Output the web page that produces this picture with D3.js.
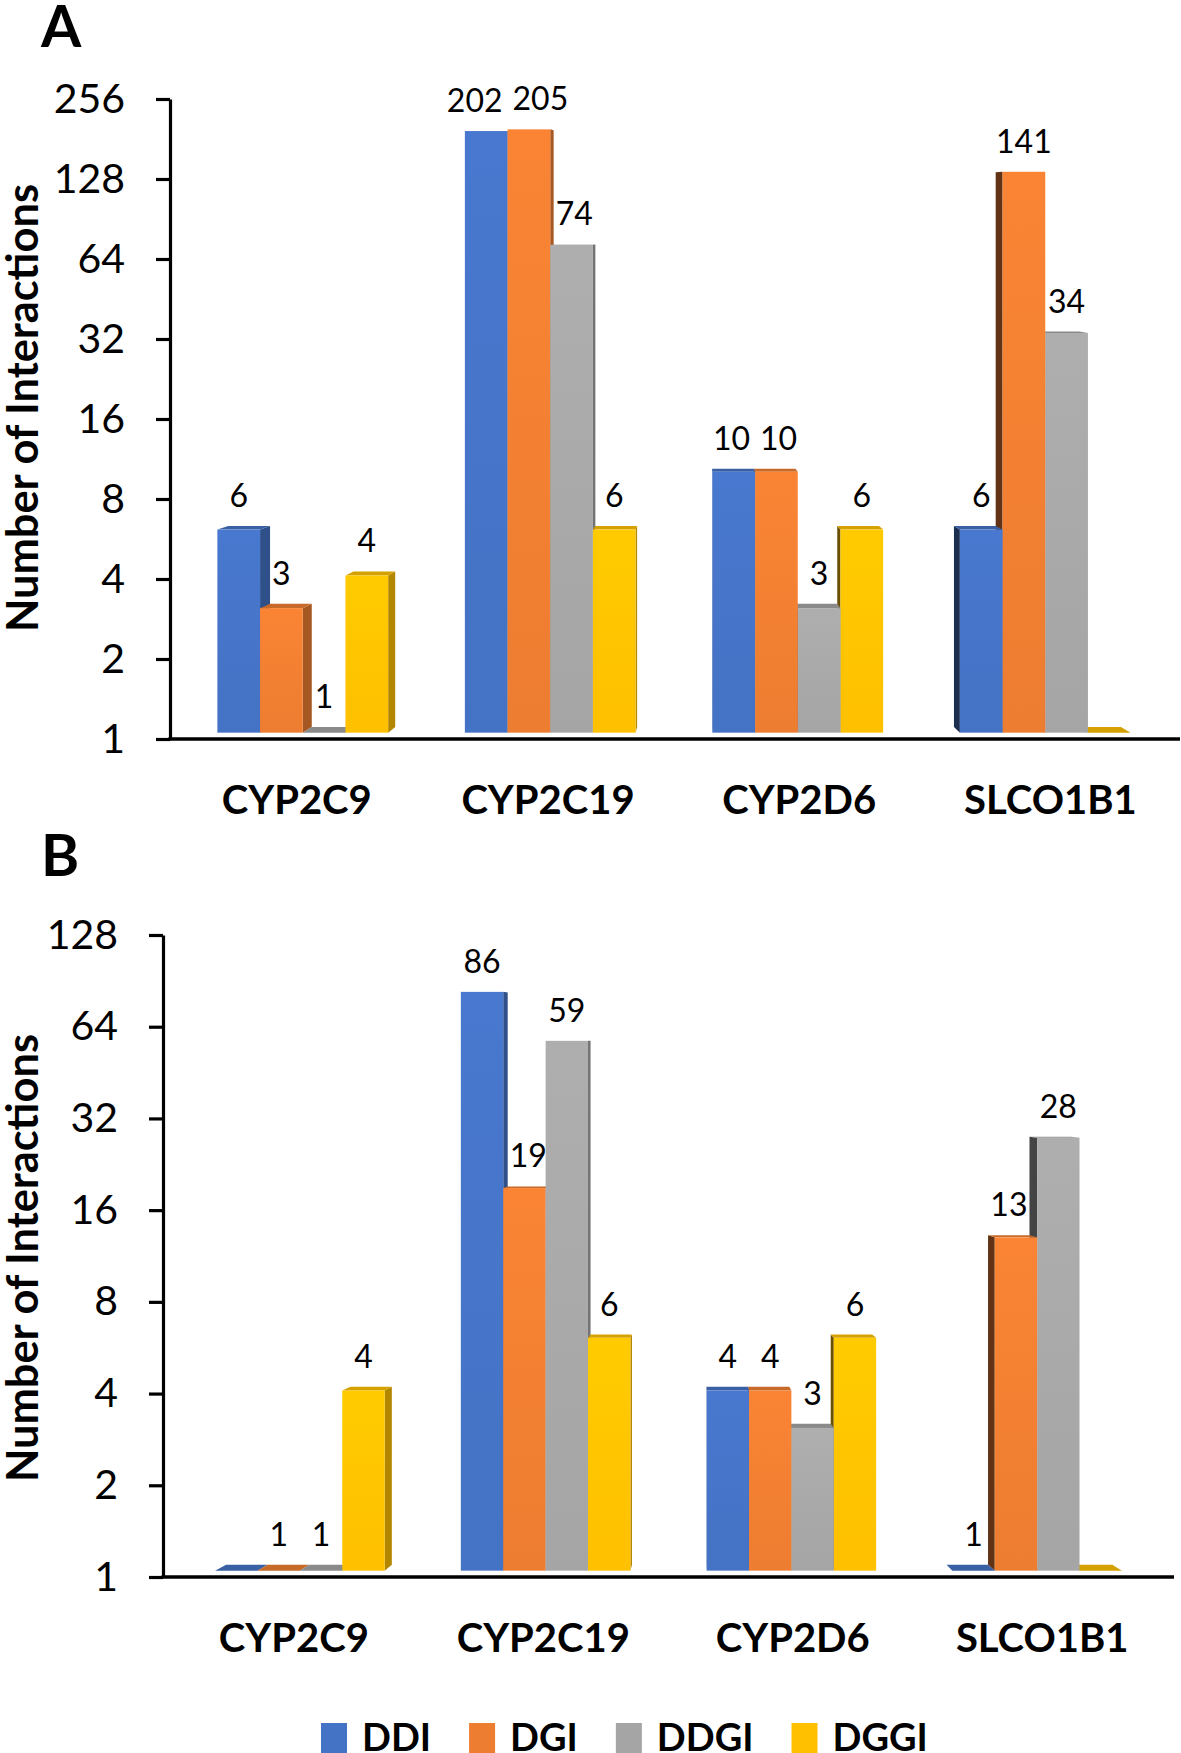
<!DOCTYPE html>
<html>
<head>
<meta charset="utf-8">
<script src="https://cdn.jsdelivr.net/npm/d3@7"></script>
<style>
  body { margin: 0; background: #fff; }
  svg { display: block; font-family: Lato, "Open Sans", sans-serif; }
</style>
</head>
<body>
<script>
// categories and series
const genes = ["CYP2C9", "CYP2C19", "CYP2D6", "SLCO1B1"];
const types = ["DDI", "DGI", "DDGI", "DGGI"];
const colors = ["#4472C4", "#ED7D31", "#A5A5A5", "#FFC000"];

// panel A values (0 = nothing to show on the log axis, drawn flat without a label)
const aDDI = [6, 202, 10, 6];
const aDGI = [3, 205, 10, 141];
const aDDGI = [1, 74, 3, 34];
const aDGGI = [4, 6, 6, 0];

// panel B values
const bDDI = [0, 86, 4, 1];
const bDGI = [1, 19, 4, 13];
const bDDGI = [1, 59, 3, 28];
const bDGGI = [4, 6, 6, 0];

const ticksA = [1, 2, 4, 8, 16, 32, 64, 128, 256];
const ticksB = [1, 2, 4, 8, 16, 32, 64, 128];

const width = 1181;
const height = 1753;

const svg = d3.select("body").append("svg")
    .attr("width", width)
    .attr("height", height)
    .attr("viewBox", [0, 0, width, height]);

svg.append("rect").attr("width", width).attr("height", height).attr("fill", "#fff");

// front faces get a faint top-lit gradient like the office 3D columns
const defs = svg.append("defs");
types.forEach((t, i) => {
  const g = defs.append("linearGradient")
      .attr("id", `grad-${t}`)
      .attr("x1", 0).attr("y1", 0).attr("x2", 0).attr("y2", 1);
  g.append("stop").attr("offset", "0%").attr("stop-color", d3.color(colors[i]).brighter(0.15));
  g.append("stop").attr("offset", "100%").attr("stop-color", colors[i]);
});

function drawPanel(opt) {
  const {series, ticks, top, bottom, axisX, xEnd, xRange, letter, letterY, titleY} = opt;

  const y = d3.scaleLog().base(2)
      .domain([ticks[0], ticks[ticks.length - 1]])
      .range([bottom, top]);

  const x = d3.scaleBand()
      .domain(genes)
      .range(xRange)
      .paddingInner(0.31)
      .paddingOuter(0.155);

  const xs = d3.scaleBand()
      .domain(types)
      .range([0, x.bandwidth()]);

  // simple perspective: the columns sit a little behind the axis plane
  const vx = 700;
  const vy = top + 0.17 * (bottom - top);
  const kx = 0.0227, ky = 0.011;
  const cy = top + 0.45 * (bottom - top);
  const s = 0.982;
  const front = v => cy + (y(Math.max(v, 1)) - cy) * s;
  const back = (px, py) => [px + (vx - px) * kx, py + (vy - py) * ky];

  const g = svg.append("g");

  // y axis
  g.append("g")
      .attr("transform", `translate(${axisX},0)`)
      .call(d3.axisLeft(y)
          .tickValues(ticks)
          .tickFormat(d3.format("d"))
          .tickSize(14)
          .tickSizeOuter(0)
          .tickPadding(31))
      .call(a => a.select(".domain").attr("stroke", "#000").attr("stroke-width", 3.2))
      .call(a => a.selectAll(".tick line").attr("stroke", "#000").attr("stroke-width", 3.2))
      .call(a => a.selectAll(".tick text")
          .attr("fill", "#000")
          .attr("font-family", "Lato, sans-serif")
          .attr("font-size", 41));

  // x axis line
  g.append("line")
      .attr("x1", axisX - 1.6).attr("x2", xEnd)
      .attr("y1", bottom).attr("y2", bottom)
      .attr("stroke", "#000")
      .attr("stroke-width", 3.6);

  // bars
  const bars = [];
  genes.forEach((gene, gi) => {
    types.forEach((t, si) => {
      const v = series[si][gi];
      const x0 = x(gene) + xs(t);
      const x1 = x0 + xs.bandwidth();
      bars.push({gene, gi, si, t, v, x0, x1, yT: front(v), yB: front(1)});
    });
  });
  const barAt = (gi, si) => bars.find(b => b.gi === gi && b.si === si);
  const drawOrder = bars.slice().sort((a, b) =>
      Math.abs((b.x0 + b.x1) / 2 - vx) - Math.abs((a.x0 + a.x1) / 2 - vx));

  const barG = g.append("g");
  drawOrder.forEach(b => {
    const base = d3.color(colors[b.si]);
    const bg = barG.append("g");
    if (b.x1 < vx) {
      bg.append("polygon")
          .attr("points", [[b.x1, b.yT], back(b.x1, b.yT), back(b.x1, b.yB), [b.x1, b.yB]].join(" "))
          .attr("fill", base.darker(1.0));
    } else if (b.x0 > vx) {
      bg.append("polygon")
          .attr("points", [[b.x0, b.yT], back(b.x0, b.yT), back(b.x0, b.yB), [b.x0, b.yB]].join(" "))
          .attr("fill", base.darker(2.5));
    }
    if (b.yT > vy) {
      bg.append("polygon")
          .attr("points", [[b.x0, b.yT], [b.x1, b.yT], back(b.x1, b.yT), back(b.x0, b.yT)].join(" "))
          .attr("fill", base.darker(0.5));
    }
    if (b.yB - b.yT > 0.5) {
      bg.append("rect")
          .attr("x", b.x0)
          .attr("y", b.yT)
          .attr("width", b.x1 - b.x0)
          .attr("height", b.yB - b.yT)
          .attr("fill", `url(#grad-${b.t})`);
    }
  });

  // value labels: keep clear of a taller neighbour's side face, then nudge apart where they collide
  const labelG = g.append("g")
      .attr("font-size", 32)
      .attr("text-anchor", "middle")
      .attr("fill", "#000");

  genes.forEach((gene, gi) => {
    const labs = types.map((t, si) => {
      const b = barAt(gi, si);
      if (!b.v) return null;
      const yBack = back(b.x0, b.yT)[1];
      const node = labelG.append("text").text(b.v);
      return {node, x: (b.x0 + b.x1) / 2, y: Math.min(b.yT, yBack) - 19, w: node.node().getComputedTextLength()};
    });

    labs.forEach((l, si) => {
      if (!l) return;
      const left = si > 0 ? barAt(gi, si - 1) : null;
      const right = si < types.length - 1 ? barAt(gi, si + 1) : null;
      if (left && left.x1 < vx && left.yT < l.y) {
        const edge = back(left.x1, left.yT)[0] + 2;
        if (l.x - l.w / 2 < edge) l.x = edge + l.w / 2;
      }
      if (right && right.x0 > vx && right.yT < l.y) {
        const edge = back(right.x0, right.yT)[0] - 2;
        if (l.x + l.w / 2 > edge) l.x = edge - l.w / 2;
      }
    });

    for (let i = 0; i < labs.length - 1; i++) {
      const a = labs[i], b = labs[i + 1];
      if (!a || !b || Math.abs(a.y - b.y) > 24) continue;
      const need = (a.w + b.w) / 2 + 10;
      const d = b.x - a.x;
      if (d < need) {
        a.x -= (need - d) / 2;
        b.x += (need - d) / 2;
      }
    }
    labs.forEach(l => { if (l) l.node.attr("x", l.x).attr("y", l.y); });
  });

  // category labels (sit on the front plane, so spread slightly)
  g.append("g")
      .attr("font-size", 40)
      .attr("font-weight", "bold")
      .attr("text-anchor", "middle")
    .selectAll("text")
    .data(genes)
    .join("text")
      .attr("x", d => vx + (x(d) + x.bandwidth() / 2 - vx) * 1.015)
      .attr("y", bottom + 75)
      .text(d => d);

  // axis title, fitted to the reference length
  const title = g.append("text")
      .attr("transform", `translate(21,${titleY}) rotate(-90)`)
      .attr("text-anchor", "middle")
      .attr("dominant-baseline", "central")
      .attr("font-weight", "bold")
      .attr("font-size", 38)
      .text("Number of Interactions");
  const tl = title.node().getComputedTextLength();
  title.attr("font-size", 38 * 448 / tl);

  // panel letter
  g.append("text")
      .attr("x", 41)
      .attr("y", letterY)
      .attr("font-weight", "bold")
      .attr("font-size", 58)
      .text(letter);
}

drawPanel({
  series: [aDDI, aDGI, aDDGI, aDGGI],
  ticks: ticksA,
  top: 99, bottom: 739,
  axisX: 170, xEnd: 1180,
  xRange: [179, 1169],
  letter: "A", letterY: 47, titleY: 408
});

drawPanel({
  series: [bDDI, bDGI, bDDGI, bDGGI],
  ticks: ticksB,
  top: 935, bottom: 1577,
  axisX: 163, xEnd: 1174,
  xRange: [177, 1160],
  letter: "B", letterY: 876, titleY: 1258
});

// legend along the bottom edge
const legend = svg.append("g")
    .attr("font-weight", "bold")
    .attr("font-size", 38);
let lx = 321;
types.forEach((t, i) => {
  legend.append("rect")
      .attr("x", lx)
      .attr("y", 1723)
      .attr("width", 26)
      .attr("height", 32)
      .attr("fill", colors[i]);
  const txt = legend.append("text")
      .attr("x", lx + 41)
      .attr("y", 1751)
      .text(t);
  lx += 41 + txt.node().getComputedTextLength() + 38;
});
</script>
</body>
</html>
